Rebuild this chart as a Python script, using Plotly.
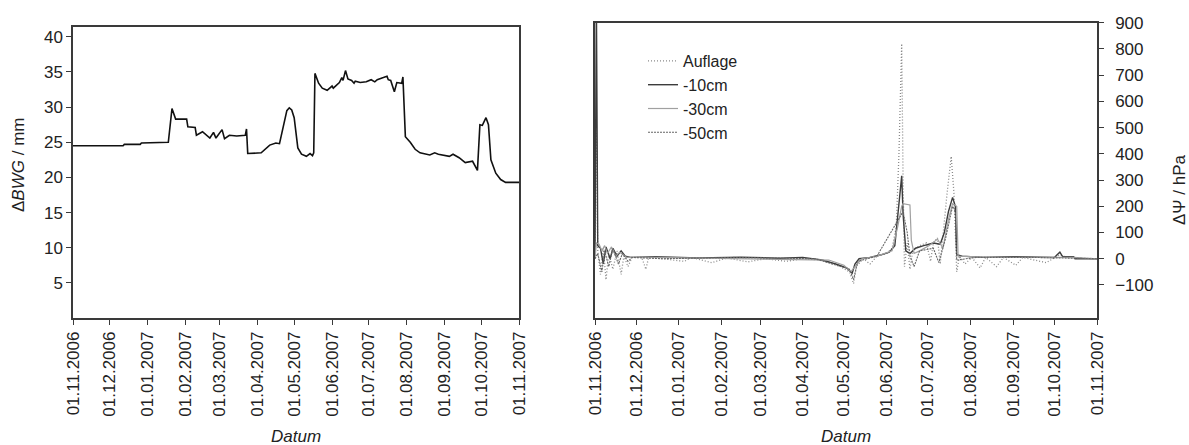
import plotly.graph_objects as go

# left panel: Bodenwassergehalt-Änderung
bwg_dates = [
    "2006-11-01", "2006-11-20", "2006-11-21", "2006-12-12", "2006-12-13", "2006-12-26",
    "2006-12-27", "2007-01-10", "2007-01-18",
    "2007-01-21", "2007-01-24", "2007-02-02", "2007-02-03", "2007-02-09", "2007-02-10",
    "2007-02-15", "2007-02-18", "2007-02-21", "2007-02-24", "2007-02-26", "2007-03-03",
    "2007-03-05", "2007-03-09", "2007-03-15", "2007-03-22", "2007-03-23", "2007-03-24",
    "2007-04-04", "2007-04-11", "2007-04-16", "2007-04-19", "2007-04-25", "2007-04-27",
    "2007-04-29", "2007-05-01", "2007-05-04", "2007-05-07", "2007-05-11", "2007-05-14",
    "2007-05-16", "2007-05-17", "2007-05-18", "2007-05-21", "2007-05-24", "2007-05-28",
    "2007-06-01", "2007-06-02", "2007-06-04", "2007-06-07", "2007-06-09", "2007-06-10",
    "2007-06-12", "2007-06-14", "2007-06-17", "2007-06-19", "2007-06-20", "2007-06-24",
    "2007-06-29", "2007-07-03", "2007-07-06", "2007-07-08", "2007-07-13", "2007-07-16",
    "2007-07-17", "2007-07-19", "2007-07-22", "2007-07-24", "2007-07-28", "2007-07-29",
    "2007-07-31", "2007-08-02", "2007-08-04", "2007-08-08", "2007-08-12", "2007-08-20",
    "2007-08-24", "2007-08-27", "2007-09-05", "2007-09-08", "2007-09-13", "2007-09-18",
    "2007-09-24", "2007-09-28", "2007-09-30", "2007-10-02", "2007-10-05", "2007-10-07",
    "2007-10-09", "2007-10-13", "2007-10-17", "2007-10-21", "2007-11-01",
]
bwg_values = [
    24.5, 24.5, 24.4, 24.5, 24.7, 24.7,
    24.9, 24.9, 25.0,
    29.8, 28.3, 28.3, 27.2, 27.1, 26.0,
    26.5, 26.0, 25.6, 26.4, 25.6, 26.8,
    25.5, 26.0, 25.9, 26.0, 26.9, 23.4,
    23.5, 24.6, 24.9, 24.8, 29.5, 29.9,
    29.6, 28.5, 24.2, 23.3, 23.0, 23.4,
    23.1, 23.5, 34.8, 33.4, 32.7, 32.4,
    33.0, 32.7, 33.0, 33.5, 34.2, 33.8,
    35.2, 34.0, 33.8, 33.4, 33.7, 33.5,
    33.6, 33.9, 33.6, 33.9, 34.2, 34.4,
    33.9, 33.8, 32.2, 33.5, 33.4, 34.3,
    25.8, 25.4, 25.0, 24.0, 23.5, 23.2,
    23.5, 23.3, 23.0, 23.3, 22.8, 22.1,
    22.3, 21.0, 27.5, 27.4, 28.5, 27.5,
    22.5, 20.6, 19.7, 19.3, 19.3,
]

# right panel: Matrixpotential-Änderung
aufl_dates = [
    "2006-11-01", "2006-11-02", "2006-11-03", "2006-11-05", "2006-11-07", "2006-11-09",
    "2006-11-11", "2006-11-14", "2006-11-17", "2006-11-20", "2006-11-22", "2006-11-25",
    "2006-11-28", "2006-12-05", "2006-12-08", "2006-12-10", "2006-12-20", "2007-01-05",
    "2007-01-10", "2007-01-25", "2007-02-05", "2007-02-20", "2007-03-05", "2007-03-20",
    "2007-04-01", "2007-04-15", "2007-04-25", "2007-05-05", "2007-05-08", "2007-05-10",
    "2007-05-15", "2007-05-20", "2007-05-25", "2007-06-01", "2007-06-05", "2007-06-08",
    "2007-06-10", "2007-06-12", "2007-06-13", "2007-06-14", "2007-06-16", "2007-06-18",
    "2007-06-20", "2007-06-25", "2007-06-30", "2007-07-03", "2007-07-05", "2007-07-08",
    "2007-07-10", "2007-07-12", "2007-07-15", "2007-07-18", "2007-07-20", "2007-07-22",
    "2007-07-24", "2007-07-28", "2007-08-02", "2007-08-08", "2007-08-12", "2007-08-20",
    "2007-08-25", "2007-09-03", "2007-09-08", "2007-09-25", "2007-10-01", "2007-10-05",
    "2007-10-10", "2007-11-01",
]
aufl_values = [
    0, 480, 30, -60, 40, -80,
    20, -40, 30, -60, 10, -30,
    5, 5, -40, 5, 0, -10,
    5, -15, 3, -12, 0, -10,
    0, -5, -20, -50, -95, -30,
    0, -20, 10, 20, 40, 120,
    400, 820, 300, -30, 60, -40,
    30, 50, 60, -10, 60, 80,
    -20, 100, 250, 390, 250, -50,
    10, -20, 5, -35, 5, -30,
    5, -25, 5, -15, 5, 15,
    5, 0,
]

cm10_dates = [
    "2006-11-01", "2006-11-02", "2006-11-03", "2006-11-05", "2006-11-07", "2006-11-09",
    "2006-11-12", "2006-11-14", "2006-11-17", "2006-11-20", "2006-11-23", "2006-11-27",
    "2006-12-15", "2007-01-15", "2007-02-15", "2007-03-15", "2007-04-01", "2007-04-15",
    "2007-04-25", "2007-05-03", "2007-05-07", "2007-05-09", "2007-05-12", "2007-05-20",
    "2007-05-28", "2007-06-03", "2007-06-07", "2007-06-10", "2007-06-12", "2007-06-13",
    "2007-06-15", "2007-06-18", "2007-06-22", "2007-06-28", "2007-07-05", "2007-07-10",
    "2007-07-13", "2007-07-16", "2007-07-19", "2007-07-21", "2007-07-22", "2007-07-26",
    "2007-08-10", "2007-09-01", "2007-10-01", "2007-10-05", "2007-10-07", "2007-10-15",
    "2007-10-16", "2007-11-01",
]
cm10_values = [
    10, 1000, 50, 40, -20, 45,
    0, 40, 10, 30, 10, 5,
    8, 3, 6, 2, 5, -5,
    -20, -35, -55, -20, 0, 5,
    15, 25, 50, 200, 316, 170,
    30, 20, 40, 50, 60, 55,
    100, 180, 234, 200, 15, 10,
    5, 8, 5, 25, 8, 8,
    0, 0,
]

cm30_dates = [
    "2006-11-01", "2006-11-02", "2006-11-04", "2006-11-06", "2006-11-08", "2006-11-10",
    "2006-11-13", "2006-11-16", "2006-11-19", "2006-11-24", "2006-12-15", "2007-04-20",
    "2007-05-01", "2007-05-06", "2007-05-09", "2007-05-14", "2007-05-25", "2007-06-05",
    "2007-06-09", "2007-06-12", "2007-06-13", "2007-06-18", "2007-06-19", "2007-06-21",
    "2007-06-25", "2007-07-02", "2007-07-08", "2007-07-12", "2007-07-16", "2007-07-19",
    "2007-07-22", "2007-07-23", "2007-08-15", "2007-10-15", "2007-11-01",
]
cm30_values = [
    0, 60, 55, 30, 50, 20,
    45, 10, 25, 5, 5, -5,
    -25, -50, -30, 0, 10, 30,
    120, 200, 210, 205, 70, 20,
    30, 50, 75, 40, 150, 210,
    200, 10, 5, 5, 0,
]

cm50_dates = [
    "2006-11-01", "2006-11-03", "2006-11-06", "2006-11-08", "2006-11-11",
    "2006-11-14", "2006-11-18", "2006-11-21", "2006-11-25", "2006-11-28", "2006-12-20",
    "2007-02-10", "2007-04-10", "2007-05-05", "2007-05-08", "2007-05-11", "2007-05-25",
    "2007-06-10", "2007-06-13", "2007-06-16", "2007-06-18", "2007-06-21", "2007-06-25",
    "2007-07-05", "2007-07-09", "2007-07-14", "2007-07-19", "2007-07-21", "2007-07-22",
    "2007-08-05", "2007-09-15", "2007-11-01",
]
cm50_values = [
    0, 20, -50, 30, -30,
    40, -20, 20, -10, 5, 0,
    5, 0, -40, -80, -10, 10,
    150, 180, 100, 10, -30, 30,
    40, -15, 80, 200, 180, -5,
    5, 5, 0,
]

month_ticks = [
    "2006-11-01", "2006-12-01", "2007-01-01", "2007-02-01", "2007-03-01", "2007-04-01",
    "2007-05-01", "2007-06-01", "2007-07-01", "2007-08-01", "2007-09-01", "2007-10-01",
    "2007-11-01",
]
month_labels = [
    "01.11.2006", "01.12.2006", "01.01.2007", "01.02.2007", "01.03.2007", "01.04.2007",
    "01.05.2007", "01.06.2007", "01.07.2007", "01.08.2007", "01.09.2007", "01.10.2007",
    "01.11.2007",
]

W, H = 1189, 445
FONT = "Liberation Sans, Arial, sans-serif"
TXT = "#222222"
FRAME = "#3a3a3a"

fig = go.Figure()

fig.add_trace(go.Scatter(
    x=bwg_dates, y=bwg_values, mode="lines", xaxis="x", yaxis="y",
    line=dict(color="#111111", width=1.6), showlegend=False,
))

fig.add_trace(go.Scatter(
    x=aufl_dates, y=aufl_values, mode="lines", name="Auflage", xaxis="x2", yaxis="y2",
    line=dict(color="#8a8a8a", width=1.3, dash="1px,2px"),
))
fig.add_trace(go.Scatter(
    x=cm10_dates, y=cm10_values, mode="lines", name="-10cm", xaxis="x2", yaxis="y2",
    line=dict(color="#3c3c3c", width=1.4),
))
fig.add_trace(go.Scatter(
    x=cm30_dates, y=cm30_values, mode="lines", name="-30cm", xaxis="x2", yaxis="y2",
    line=dict(color="#a0a0a0", width=1.2),
))
fig.add_trace(go.Scatter(
    x=cm50_dates, y=cm50_values, mode="lines", name="-50cm", xaxis="x2", yaxis="y2",
    line=dict(color="#666666", width=1.1, dash="2px,1px"),
))

xaxis_common = dict(
    type="date", range=["2006-11-01", "2007-11-01"],
    tickvals=month_ticks, ticktext=month_labels, tickangle=-90,
    ticks="outside", ticklen=5, tickcolor=FRAME, tickwidth=1.2,
    showline=True, linecolor=FRAME, linewidth=1.5, mirror=True,
    showgrid=False, zeroline=False, automargin=False,
    tickfont=dict(family=FONT, size=17, color=TXT),
)
yaxis_common = dict(
    ticks="outside", ticklen=5, tickcolor=FRAME, tickwidth=1.2,
    showline=True, linecolor=FRAME, linewidth=1.5, mirror=True,
    showgrid=False, zeroline=False, automargin=False,
    tickfont=dict(family=FONT, size=17, color=TXT),
)

fig.update_layout(
    width=W, height=H,
    margin=dict(l=0, r=0, t=0, b=0, autoexpand=False),
    paper_bgcolor="white", plot_bgcolor="white",
    font=dict(family=FONT, size=16, color=TXT),
    xaxis=dict(domain=[73 / W, 519 / W], anchor="y", **xaxis_common),
    yaxis=dict(
        domain=[1 - 318 / H, 1 - 27 / H], range=[0, 41.4], anchor="x",
        tickvals=[5, 10, 15, 20, 25, 30, 35, 40], **yaxis_common,
    ),
    xaxis2=dict(domain=[595 / W, 1097 / W], anchor="y2", **xaxis_common),
    yaxis2=dict(
        domain=[1 - 318 / H, 1 - 22.7 / H], range=[-226, 900], side="right", anchor="x2",
        tickvals=[-100, 0, 100, 200, 300, 400, 500, 600, 700, 800, 900],
        ticklabelstandoff=8, **yaxis_common,
    ),
    legend=dict(
        x=643 / W, y=1 - 44 / H, xanchor="left", yanchor="top",
        bgcolor="rgba(0,0,0,0)", borderwidth=0,
        font=dict(family=FONT, size=16, color=TXT),
        tracegroupgap=0,
    ),
)

annotations = [
    dict(text="<i>Datum</i>", x=296 / W, y=1 - 436 / H),
    dict(text="<i>Datum</i>", x=846 / W, y=1 - 436 / H),
    dict(text="Δ<i>BWG</i> / mm", x=18 / W, y=1 - 165 / H, textangle=-90),
    dict(text="ΔΨ / hPa", x=1180 / W, y=1 - 190 / H, textangle=-90),
]
for a in annotations:
    fig.add_annotation(
        xref="paper", yref="paper", showarrow=False,
        xanchor="center", yanchor="middle",
        font=dict(family=FONT, size=17, color=TXT), **a,
    )

# page body has a default 8px margin; drop it so the figure sits at the window origin
fig.write_html(
    "out.html",
    config={"displayModeBar": False},
    post_script="document.body.style.margin='0';",
)
